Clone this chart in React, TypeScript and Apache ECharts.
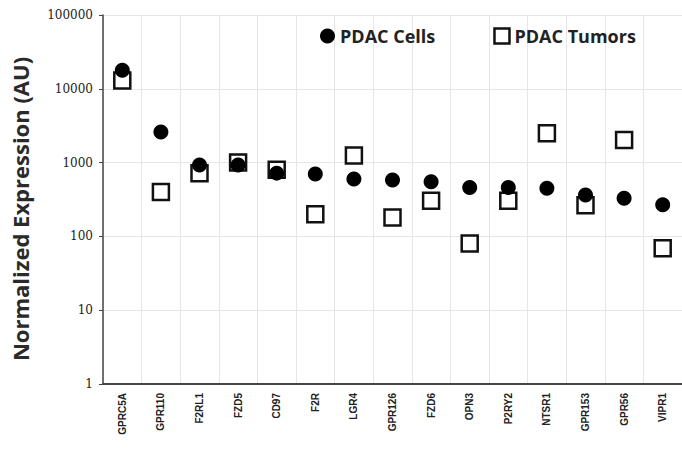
import React, { useEffect, useRef } from "react";
import * as echarts from "echarts";

const categories = ["GPRC5A", "GPR110", "F2RL1", "FZD5", "CD97", "F2R", "LGR4", "GPR126", "FZD6", "OPN3", "P2RY2", "NTSR1", "GPR153", "GPR56", "VIPR1"];
const pdacCells = [17800, 2600, 930, 930, 720, 700, 600, 580, 550, 460, 460, 450, 365, 330, 268];
const pdacTumors = [13000, 400, 720, 1000, 800, 200, 1250, 180, 305, 80, 305, 2500, 265, 2030, 69];
const yTicks = [1, 10, 100, 1000, 10000, 100000];
const yTitle = "Normalized Expression (AU)";

export default function App() {
  const ref = useRef<HTMLDivElement>(null);
  useEffect(() => {
    const chart = echarts.init(ref.current!, undefined, { renderer: "svg" });
    chart.setOption({
      animation: false,
      backgroundColor: "#ffffff",
      textStyle: { fontFamily: "Open Sans" },
      grid: { left: 103, right: -4, top: 15, bottom: 74 },
      graphic: [
        {
          type: "text",
          x: 20,
          y: 209,
          rotation: Math.PI / 2,
          style: {
            text: yTitle,
            fontSize: 22,
            fontWeight: "bold",
            fontFamily: "Open Sans",
            fill: "#2a2a2a",
            align: "center",
            verticalAlign: "middle",
          },
        },
      ],
      legend: {
        top: 22,
        left: 315,
        itemGap: 58,
        itemWidth: 15,
        itemHeight: 15,
        textStyle: { fontSize: 18, fontWeight: "bold", color: "#222", fontFamily: "Open Sans" },
        data: [
          { name: "PDAC Cells", icon: "circle", itemStyle: { color: "#000", opacity: 1 } },
          { name: "PDAC Tumors", icon: "rect", itemStyle: { color: "#fff", borderColor: "#111", borderWidth: 2.5, opacity: 1 } },
        ],
      },
      xAxis: {
        type: "category",
        data: categories,
        boundaryGap: true,
        axisLine: { lineStyle: { color: "#444", width: 2 } },
        axisTick: { show: false },
        splitLine: { show: true, lineStyle: { color: "#e6e6e6", width: 1 } },
        axisLabel: { rotate: 90, fontSize: 10, fontWeight: "bold", color: "#222", margin: 9, interval: 0, fontFamily: "Liberation Sans" },
      },
      yAxis: {
        type: "log",
        logBase: 10,
        min: 1,
        max: 100000,
        axisLine: { show: true, lineStyle: { color: "#444", width: 1.5 } },
        axisTick: { show: true, length: 4, lineStyle: { color: "#444" } },
        splitLine: { show: true, lineStyle: { color: "#e6e6e6", width: 1 } },
        axisLabel: {
          fontSize: 12,
          color: "#222",
          fontFamily: "DejaVu Serif",
          margin: 10,
          formatter: (v: number) => (yTicks.includes(v) ? String(v) : ""),
        },
      },
      series: [
        {
          name: "PDAC Tumors",
          type: "scatter",
          data: pdacTumors,
          symbol: "rect",
          symbolSize: 16,
          z: 2,
          itemStyle: { color: "#fff", borderColor: "#111", borderWidth: 2.5, opacity: 1 },
        },
        {
          name: "PDAC Cells",
          type: "scatter",
          data: pdacCells,
          symbol: "circle",
          symbolSize: 15,
          z: 3,
          itemStyle: { color: "#000", opacity: 1 },
        },
      ],
    });
    return () => chart.dispose();
  }, []);
  return <div ref={ref} style={{ width: 682, height: 458, position: "absolute", left: 0, top: 0 }} />;
}
